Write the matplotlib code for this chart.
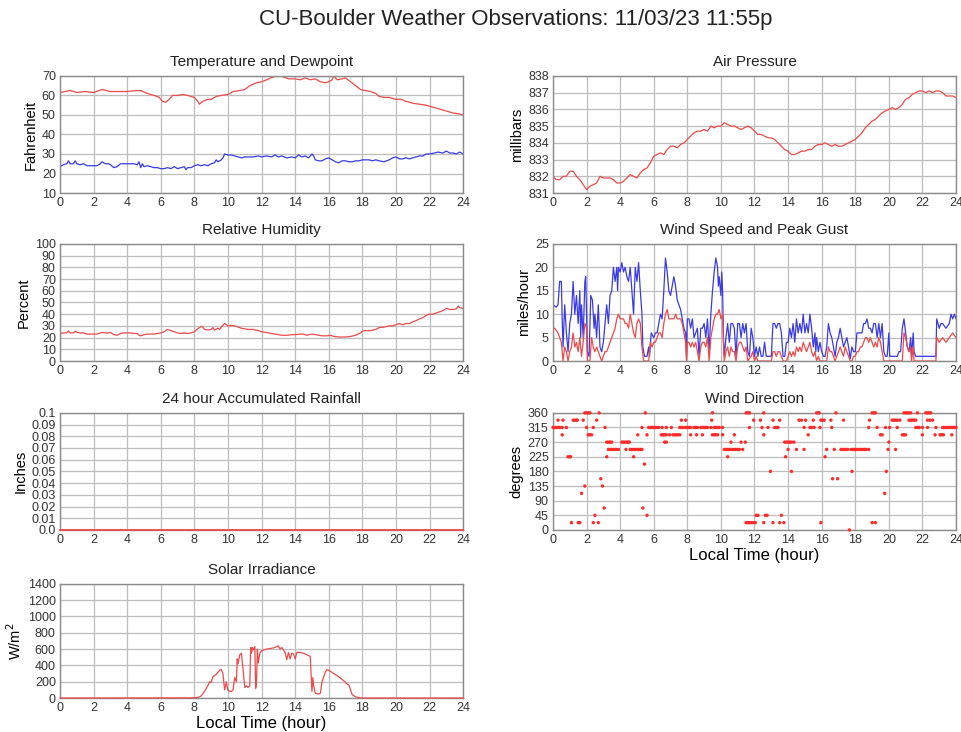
import numpy as np
import matplotlib
matplotlib.use("Agg")
import matplotlib.pyplot as plt

plt.rcParams['font.family'] = ['Liberation Sans', 'DejaVu Sans']
plt.rcParams['text.color'] = '#222222'

# ---- data (hours, value) ----
temp_t = [0, 0.3, 0.6, 1.0, 1.5, 2.0, 2.5, 3.0, 3.5, 4.0, 4.5, 4.8, 5.2, 5.6, 5.9, 6.1, 6.3, 6.5, 6.7, 7.0,
          7.3, 7.6, 8.0, 8.2, 8.3, 8.5, 8.8, 9.0, 9.3, 9.6, 10.0, 10.3, 10.7, 11.0, 11.3, 11.7, 12.0, 12.3,
          12.7, 13.0, 13.3, 13.6, 14.0, 14.3, 14.6, 14.9, 15.2, 15.5, 15.8, 16.0, 16.2, 16.3, 16.5, 16.8,
          17.0, 17.3, 17.6, 17.9, 18.2, 18.5, 18.8, 19.0, 19.3, 19.6, 20.0, 20.3, 20.6, 21.0, 21.4, 21.8,
          22.2, 22.6, 23.0, 23.4, 23.8, 24.0]
temp_v = [61.5, 62, 62.5, 61.5, 62, 61.5, 63, 62, 62, 62, 62.5, 62.5, 61, 60, 59, 57, 56.5, 58, 60, 60,
          60.5, 60, 59, 57, 55.5, 57, 58, 58, 59.5, 60, 60.5, 62, 62.5, 63, 65, 66.5, 67, 68,
          69.5, 70, 69.5, 68.5, 68.5, 68, 69, 68, 68.5, 67, 66.5, 67, 68, 70, 68, 68.5,
          69, 67, 65, 63, 62.5, 62, 61, 59.5, 59, 59, 58, 58, 57, 56, 55.5, 55,
          54, 53, 52, 51, 50.5, 50]

dew_t = [0, 0.2, 0.4, 0.5, 0.6, 0.8, 0.9, 1.0, 1.2, 1.4, 1.6, 1.8, 2.0, 2.2, 2.4, 2.5, 2.7, 2.9, 3.0, 3.2,
         3.4, 3.6, 3.8, 4.0, 4.2, 4.4, 4.6, 4.7, 4.8, 4.9, 5.0, 5.2, 5.4, 5.6, 5.8, 6.0, 6.2, 6.4, 6.6,
         6.8, 7.0, 7.2, 7.4, 7.5, 7.6, 7.8, 8.0, 8.2, 8.4, 8.6, 8.8, 9.0, 9.2, 9.3, 9.4, 9.5, 9.6, 9.7,
         9.8, 10.0, 10.2, 10.4, 10.6, 10.8, 11.0, 11.2, 11.5, 11.8, 12.0, 12.3, 12.6, 12.8, 13.0, 13.2,
         13.5, 13.8, 14.0, 14.2, 14.4, 14.6, 14.8, 15.0, 15.1, 15.2, 15.4, 15.6, 15.8, 16.0, 16.2, 16.4,
         16.6, 16.8, 17.0, 17.2, 17.4, 17.6, 17.8, 18.0, 18.2, 18.4, 18.6, 18.8, 19.0, 19.3, 19.6, 19.8,
         20.0, 20.2, 20.4, 20.6, 20.8, 21.0, 21.2, 21.4, 21.6, 21.8, 22.0, 22.3, 22.5, 22.8, 23.0, 23.2,
         23.4, 23.6, 23.8, 24.0]
dew_v = [23.5, 24.5, 25, 26.5, 25, 25, 26.5, 25, 24.5, 25, 24, 24, 24, 24, 25, 26, 25, 25, 24.5, 23,
         23.5, 25, 25, 25, 25, 25, 24.5, 26, 23, 25, 23.5, 24, 23.5, 23, 23, 22.5, 22.5, 23, 22.5,
         23.5, 22.5, 23, 23.5, 22, 23, 23, 24, 24.5, 24, 24.5, 24, 25, 25.5, 27, 26, 26.5, 27, 28,
         30, 29.5, 29.5, 29, 28.5, 28, 28.5, 28.5, 28.5, 29, 28.5, 29, 28.5, 29.5, 28.5, 29,
         28, 28.5, 28, 29.5, 28.5, 29, 28, 30, 29, 27, 26.5, 26.5, 27.5, 28, 27, 26,
         25.5, 26.5, 26.5, 26, 26, 26.5, 26.5, 27, 27, 27, 26.5, 27, 26.5, 26, 27, 28,
         28.5, 27.5, 27.5, 28, 27.5, 28, 28.5, 29, 29, 30, 30, 30.5, 31, 30.5, 31.5, 30.5,
         30.5, 30, 31, 30]

pres_t = [round(0.2 * i, 1) for i in range(121)]
pres_v = [832.0, 831.8, 831.8, 832.0, 832.0, 832.3, 832.3, 832.0, 831.8, 831.5, 831.2, 831.4, 831.5, 831.6,
          832.0, 831.9, 831.9, 831.9, 831.8, 831.6, 831.6, 831.7, 831.9, 832.1, 832.0, 831.9, 832.2, 832.4,
          832.5, 832.8, 833.2, 833.3, 833.4, 833.3, 833.6, 833.8, 833.8, 833.7, 833.9, 834.0, 834.2, 834.4,
          834.6, 834.7, 834.7, 834.8, 834.7, 835.0, 834.9, 835.0, 835.0, 835.2, 835.1, 835.0, 835.0, 834.9,
          834.8, 834.9, 835.0, 834.9, 834.7, 834.5, 834.5, 834.4, 834.3, 834.3, 834.2, 834.0, 833.8, 833.6,
          833.5, 833.3, 833.3, 833.4, 833.5, 833.5, 833.6, 833.6, 833.8, 833.9, 833.9, 834.0, 833.9, 833.8,
          833.9, 833.8, 833.8, 833.9, 834.0, 834.1, 834.2, 834.4, 834.6, 834.9, 835.1, 835.3, 835.4, 835.6,
          835.8, 835.9, 836.0, 836.1, 836.0, 836.1, 836.3, 836.6, 836.7, 836.9, 837.0, 837.1, 837.1, 837.0,
          837.1, 837.0, 837.1, 837.1, 837.0, 836.8, 836.8, 836.8, 836.7]

rh_t = [0, 0.2, 0.4, 0.5, 0.6, 0.8, 0.9, 1.0, 1.2, 1.4, 1.6, 1.8, 2.0, 2.2, 2.4, 2.5, 2.7, 2.9, 3.0, 3.2,
        3.4, 3.6, 3.8, 4.0, 4.2, 4.4, 4.6, 4.7, 4.8, 5.0, 5.2, 5.4, 5.6, 5.8, 6.0, 6.2, 6.4, 6.5, 6.6,
        6.8, 7.0, 7.2, 7.4, 7.6, 7.8, 8.0, 8.2, 8.4, 8.5, 8.6, 8.8, 9.0, 9.1, 9.2, 9.4, 9.5, 9.6, 9.8,
        10.0, 10.2, 10.4, 10.6, 10.8, 11.0, 11.2, 11.5, 11.8, 12.0, 12.4, 12.8, 13.0, 13.2, 13.5, 13.8,
        14.0, 14.3, 14.5, 14.7, 15.0, 15.2, 15.4, 15.6, 15.9, 16.1, 16.3, 16.6, 17.0, 17.3, 17.6, 17.9,
        18.0, 18.2, 18.5, 18.8, 19.0, 19.3, 19.6, 19.8, 20.0, 20.2, 20.4, 20.6, 20.8, 21.0, 21.2, 21.4,
        21.6, 21.8, 22.0, 22.2, 22.4, 22.6, 22.8, 23.0, 23.2, 23.4, 23.6, 23.7, 23.8, 24.0]
rh_v = [23.5, 24, 24, 25.5, 24, 24, 25.5, 24.5, 24, 24, 23, 23, 23, 23, 24, 24.5, 24, 24, 24.5, 22.5,
        22, 23.5, 24, 24, 24, 23.5, 23.5, 22, 21.5, 22.5, 23, 23, 23, 23.5, 24, 25, 27, 26.5, 26,
        25, 24, 23.5, 24, 23.5, 24, 25, 27.5, 29.5, 29, 27, 26.5, 27, 28.5, 26.5, 28, 27, 29, 32,
        30, 30.5, 30, 29, 28, 27.5, 27, 27, 26, 25, 24, 23, 22.5, 22, 22, 22.5,
        22.5, 23, 23, 22, 23, 22.5, 22, 21.5, 21.5, 22, 21, 20.5, 20.5, 21, 22, 24,
        25.5, 26, 26, 27, 28.5, 29, 30, 30, 31, 32, 31, 32, 32, 33.5, 34.5, 36,
        37, 39, 40, 40, 41, 42, 43, 45, 44, 44, 44.5, 47, 45.5, 45]

rain_t = [0, 24]
rain_v = [0.0, 0.0]

gust_t = [0, 0.2, 0.3, 0.4, 0.5, 0.55, 0.6, 0.7, 0.8, 0.9, 1.0, 1.1, 1.2, 1.3, 1.4, 1.5, 1.6, 1.65, 1.7, 1.8,
          1.9, 1.95, 2.05, 2.15, 2.25, 2.35, 2.45, 2.5, 2.6, 2.7, 2.8, 2.9, 3.0, 3.1, 3.2, 3.3, 3.4, 3.5,
          3.6, 3.7, 3.8, 3.85, 3.9, 4.0, 4.1, 4.2, 4.3, 4.4, 4.5, 4.6, 4.7, 4.8, 4.9, 5.0, 5.1, 5.2, 5.3,
          5.35, 5.45, 5.6, 5.7, 5.75, 5.85, 6.0, 6.1, 6.2, 6.4, 6.5, 6.6, 6.7, 6.8, 6.9, 7.0, 7.1, 7.2,
          7.3, 7.4, 7.5, 7.6, 7.7, 7.8, 7.9, 7.95, 8.0, 8.1, 8.2, 8.3, 8.4, 8.5, 8.6, 8.7, 8.8, 8.9, 9.0,
          9.1, 9.2, 9.3, 9.4, 9.5, 9.6, 9.7, 9.8, 9.85, 9.9, 10.0, 10.05, 10.1, 10.15, 10.2, 10.3, 10.4,
          10.5, 10.6, 10.7, 10.8, 10.9, 11.0, 11.1, 11.2, 11.3, 11.4, 11.5, 11.6, 11.7, 11.8, 11.9, 12.0,
          12.1, 12.2, 12.3, 12.4, 12.5, 12.6, 12.7, 13.0, 13.1, 13.2, 13.3, 13.4, 13.5, 13.6, 13.7, 13.8,
          13.9, 14.0, 14.1, 14.2, 14.3, 14.4, 14.5, 14.6, 14.7, 14.8, 14.9, 15.0, 15.1, 15.2, 15.3, 15.4,
          15.5, 15.6, 15.65, 15.7, 15.8, 15.9, 16.0, 16.1, 16.2, 16.3, 16.4, 16.5, 16.6, 16.7, 16.8, 16.9,
          17.0, 17.1, 17.2, 17.3, 17.4, 17.5, 17.6, 17.7, 17.8, 17.9, 18.0, 18.1, 18.2, 18.3, 18.4, 18.5,
          18.6, 18.7, 18.8, 18.9, 19.0, 19.1, 19.2, 19.3, 19.4, 19.5, 19.6, 19.7, 19.8, 19.9, 20.0, 20.05,
          20.2, 20.5, 20.6, 20.7, 20.8, 20.9, 21.0, 21.1, 21.2, 21.3, 21.35, 21.45, 21.5, 21.6, 22.0, 22.5,
          22.8, 22.85, 23.0, 23.1, 23.2, 23.4, 23.6, 23.7, 23.8, 23.9, 24.0]
gust_v = [12, 11.5, 12, 17, 17, 9, 3, 12, 6, 2, 8, 10, 17, 10, 14, 8, 15, 5, 12, 5,
          17, 18, 2, 1, 14, 13, 7, 10, 5, 12, 3, 2, 4, 8, 12, 8, 14, 15,
          20, 17, 20, 15, 20, 19, 21, 19, 20, 18, 17, 20, 15, 10, 20, 17, 21, 15, 10,
          3, 1, 1, 3, 1, 6, 5, 6, 6, 10, 9, 15, 22, 19, 15, 14, 16, 18,
          16, 13, 12, 11, 9, 7, 6, 1, 9, 9, 7, 9, 5, 6, 7, 1, 7, 7, 8,
          5, 9, 2, 10, 15, 19, 22, 20, 16, 18, 14, 19, 15, 5, 1, 5, 8,
          4, 8, 8, 7, 1, 8, 8, 5, 8, 6, 8, 2, 1, 7, 5, 1,
          3, 1, 3, 1, 1, 4, 1, 1, 8, 8, 7, 8, 8, 6, 1, 1,
          4, 4, 7, 5, 8, 4, 9, 6, 8, 6, 10, 6, 8, 6, 10, 7,
          3, 6, 2, 5, 2, 4, 2, 1, 1, 3, 8, 6, 5, 3, 1, 4,
          5, 7, 5, 3, 4, 5, 3, 0.5, 3, 2, 2, 6, 6, 6, 6, 8,
          8, 9, 7, 7, 6, 8, 8, 5, 8, 5, 8, 2, 1, 1, 6, 1,
          1, 1, 2, 2, 7, 9, 6, 3, 2, 5, 1, 6, 2, 1, 1, 1,
          1, 9, 7, 8, 8, 7, 8, 10, 9, 10, 9]

speed_t = [0, 0.1, 0.2, 0.3, 0.4, 0.5, 0.6, 0.7, 0.8, 0.9, 1.0, 1.1, 1.2, 1.3, 1.4, 1.5, 1.6, 1.7, 1.8, 1.9,
           2.0, 2.05, 2.2, 2.3, 2.4, 2.5, 2.6, 2.7, 2.8, 2.9, 3.0, 3.1, 3.2, 3.3, 3.4, 3.5, 3.6, 3.7, 3.8,
           3.9, 4.0, 4.2, 4.3, 4.4, 4.5, 4.6, 4.7, 4.8, 4.9, 5.0, 5.1, 5.2, 5.3, 5.4, 5.5, 5.7, 5.8, 5.9,
           6.0, 6.1, 6.2, 6.3, 6.4, 6.5, 6.6, 6.7, 6.8, 6.9, 7.0, 7.2, 7.3, 7.4, 7.6, 7.7, 7.8, 7.9, 7.95,
           8.0, 8.1, 8.2, 8.3, 8.4, 8.5, 8.6, 8.7, 8.8, 8.9, 9.0, 9.1, 9.2, 9.3, 9.4, 9.5, 9.6, 9.7, 9.8,
           9.9, 10.0, 10.1, 10.15, 10.2, 10.3, 10.4, 10.5, 10.6, 10.7, 10.8, 10.9, 11.0, 11.1, 11.2, 11.3,
           11.4, 11.5, 11.6, 11.8, 11.9, 12.0, 12.1, 12.2, 13.0, 13.1, 13.2, 13.3, 13.4, 13.5, 13.6, 13.7,
           13.9, 14.0, 14.1, 14.2, 14.3, 14.4, 14.5, 14.6, 14.7, 14.8, 14.9, 15.0, 15.1, 15.2, 15.3, 15.4,
           15.5, 15.6, 15.7, 15.8, 15.9, 16.3, 16.4, 16.5, 16.6, 16.7, 16.8, 16.9, 17.0, 17.1, 17.2, 17.3,
           17.4, 17.5, 17.6, 17.7, 17.8, 17.9, 18.0, 18.1, 18.2, 18.3, 18.4, 18.5, 18.6, 18.7, 18.8, 18.9,
           19.0, 19.1, 19.2, 19.3, 19.4, 19.5, 19.6, 19.7, 20.0, 20.5, 20.8, 20.9, 21.0, 21.1, 21.2, 21.3,
           21.35, 21.45, 21.5, 21.6, 22.8, 22.85, 23.0, 23.2, 23.4, 23.6, 23.8, 24.0]
speed_v = [7, 7, 6.5, 6, 5, 4, 0, 3, 2, 0, 2, 3, 6, 3, 4, 2, 5, 1, 4, 8,
           7, 0, 0, 5, 3, 2, 3, 2, 1, 0, 1, 2, 2, 3, 4, 5, 6, 7, 9,
           10, 9, 9, 8, 8, 7, 10, 8, 6, 5, 8, 9, 8, 3, 0, 0, 0, 4, 3,
           4, 4, 5, 6, 6, 5, 8, 10, 11, 9, 9, 9, 10, 9, 9, 8, 6, 4, 0,
           4, 4, 3, 4, 3, 4, 2, 0, 3, 4, 4, 3, 5, 0, 5, 7, 9, 10, 10,
           11, 9, 10, 4, 0, 2, 3, 1, 3, 2, 2, 0, 3, 4, 4, 3,
           2, 3, 0, 1, 2, 0, 1, 0, 0, 2, 2, 1, 2, 2, 1, 0,
           0, 1, 2, 1, 2, 1, 3, 2, 3, 2, 4, 3, 2, 3, 4, 2,
           1, 2, 0, 1, 0, 0, 3, 2, 2, 1, 0, 1, 2, 3, 2, 1,
           3, 2, 1, 0, 0, 1, 1, 2, 2, 3, 3, 4, 5, 5, 4, 5,
           4, 3, 4, 3, 5, 4, 2, 0, 0, 0, 0, 6, 5, 3, 2, 3,
           0, 3, 0, 0, 0, 5, 4, 5, 4, 5, 6, 5]

# wind direction: degrees -> times of observations
wdir = {
    360.0: [1.9, 2.0, 2.1, 2.2, 2.75, 5.5, 9.5, 11.5, 11.6, 11.7, 12.55, 15.7, 15.8, 15.85, 16.85,
            19.0, 19.1, 19.2, 20.9, 21.0, 21.1, 21.2, 21.3, 21.7, 22.2, 22.3, 22.4, 22.5],
    337.5: [0.3, 0.6, 1.2, 1.3, 1.4, 1.45, 1.8, 2.6, 7.65, 7.9, 9.45, 11.95, 12.35, 13.1, 13.5, 14.65,
            14.8, 15.05, 15.5, 15.95, 16.05, 16.15, 16.55, 17.3, 18.85, 20.2, 20.3, 20.4, 20.5, 20.65,
            21.2, 21.3, 21.4, 21.5, 21.6, 22.3, 22.45, 22.6],
    315.0: [0.0, 0.1, 0.2, 0.3, 0.4, 0.55, 0.8, 2.0, 2.4, 3.1, 5.3, 5.7, 5.8, 5.9, 6.0, 6.1, 6.2, 6.3,
            6.5, 6.75, 7.05, 7.55, 7.65, 7.75, 7.9, 8.0, 8.1, 8.2, 8.4, 8.5, 8.6, 8.8, 8.9, 9.0, 9.1,
            9.2, 9.4, 9.6, 9.7, 9.8, 9.9, 10.1, 11.7, 12.45, 12.8, 13.2, 13.3, 13.4, 14.95, 15.3, 15.4,
            15.55, 15.9, 16.6, 18.8, 19.3, 19.8, 20.05, 20.5, 21.6, 21.7, 21.8, 22.0, 22.3, 22.8, 23.2,
            23.3, 23.4, 23.5, 23.6, 23.7, 23.8, 23.9, 24.0],
    292.5: [0.55, 2.1, 2.2, 2.3, 5.05, 5.6, 6.45, 6.55, 6.65, 6.75, 6.95, 7.15, 7.25, 7.35, 7.45, 7.55,
            8.2, 8.55, 8.9, 9.5, 9.6, 9.7, 9.8, 10.1, 10.8, 12.55, 15.2, 19.5, 19.6, 20.8, 20.9, 21.0,
            22.0, 22.75, 23.05, 23.15, 23.25, 23.75],
    270.0: [3.2, 3.3, 3.4, 3.5, 4.1, 4.2, 4.3, 4.4, 4.5, 4.55, 6.65, 6.75, 10.6, 11.2, 11.45, 13.8, 13.9,
            14.0, 14.1, 14.2, 14.35, 20.0],
    247.5: [3.3, 3.4, 3.5, 3.6, 3.7, 3.8, 3.9, 4.35, 4.6, 4.7, 4.8, 4.9, 5.0, 5.1, 5.2, 5.3, 10.2, 10.3,
            10.4, 10.5, 10.6, 10.7, 10.8, 10.9, 11.0, 11.1, 11.3, 14.0, 14.5, 14.95, 16.3, 16.75, 17.15,
            17.25, 17.35, 17.45, 17.55, 17.75, 17.85, 17.95, 18.05, 18.15, 18.25, 18.35, 18.45, 18.55,
            18.65, 18.8, 19.95, 20.4],
    225.0: [0.9, 1.0, 1.05, 3.2, 4.8, 10.4, 13.85, 16.2],
    202.5: [5.45],
    180.0: [12.95, 14.2, 17.8, 19.85],
    157.5: [2.85, 16.65, 16.95],
    135.0: [1.9, 2.95],
    112.5: [1.7, 19.75],
    67.5: [3.05, 5.35],
    45.0: [2.5, 5.6, 12.1, 12.2, 12.65, 12.75, 13.6],
    22.5: [1.1, 1.5, 1.6, 2.4, 2.7, 11.5, 11.6, 11.7, 11.8, 11.9, 12.05, 12.55, 13.1, 13.5, 13.75, 15.95,
           19.0, 19.2],
    0.0: [17.65],
}

solar_t = [0, 7.8, 8.2, 8.4, 8.6, 8.8, 8.9, 9.0, 9.1, 9.3, 9.5, 9.6, 9.7, 9.8, 9.9, 10.0, 10.2, 10.3, 10.4,
           10.5, 10.55, 10.6, 10.7, 10.8, 10.9, 11.0, 11.1, 11.2, 11.3, 11.35, 11.4, 11.45, 11.5, 11.6,
           11.65, 11.7, 11.75, 11.8, 11.9, 12.0, 12.3, 12.6, 12.8, 13.0, 13.1, 13.2, 13.3, 13.4, 13.5,
           13.6, 13.7, 13.8, 13.9, 14.0, 14.1, 14.3, 14.6, 14.9, 15.0, 15.05, 15.1, 15.2, 15.4, 15.5,
           15.6, 15.8, 15.9, 16.0, 16.3, 16.6, 16.9, 17.1, 17.2, 17.3, 17.4, 17.6, 17.8, 18.0, 24.0]
solar_v = [0, 2, 5, 25, 80, 150, 200, 190, 260, 290, 340, 350, 300, 100, 200, 90, 80, 100, 250,
           200, 480, 420, 530, 550, 350, 130, 150, 130, 150, 620, 550, 620, 590, 630,
           120, 200, 600, 430, 550, 580, 600, 610, 620, 640, 600, 620, 590, 560, 470,
           560, 480, 550, 540, 480, 560, 560, 540, 510, 80, 250, 150, 60, 50, 60,
           200, 320, 350, 340, 300, 260, 210, 170, 160, 100, 40, 15, 5, 0, 0]

RED = '#ee4a4a'
BLUE = '#3a3ae8'
hours = list(range(0, 25, 2))

fig = plt.figure(figsize=(9.62, 7.32), dpi=100)
fig.suptitle('CU-Boulder Weather Observations: 11/03/23 11:55p', fontsize=16, x=0.536, y=0.988)

W = 0.419
H = 0.160
lx, rx = 0.0624, 0.5748
rows = [0.7363, 0.5068, 0.2760]


def style(ax, title, ylabel, ylim, yticks, yticklabels=None, xlabel=None):
    ax.set_xlim(0, 24)
    ax.set_ylim(*ylim)
    ax.set_xticks(hours)
    ax.set_yticks(yticks)
    if yticklabels is not None:
        ax.set_yticklabels(yticklabels)
    ax.grid(True, color='#bdbdbd', linewidth=0.9)
    ax.set_axisbelow(True)
    for s in ax.spines.values():
        s.set_color('#8a8a8a')
        s.set_linewidth(1.0)
    ax.tick_params(length=0, labelsize=9, pad=3, colors='#333333')
    ax.set_title(title, fontsize=11, pad=7)
    ax.set_ylabel(ylabel, fontsize=10.5, labelpad=3)
    if xlabel:
        ax.set_xlabel(xlabel, fontsize=12, labelpad=1)


ax = fig.add_axes([lx, rows[0], W, H])
ax.plot(temp_t, temp_v, color=RED, lw=0.9)
ax.plot(dew_t, dew_v, color=BLUE, lw=0.9)
style(ax, 'Temperature and Dewpoint', 'Fahrenheit', (10, 70), range(10, 71, 10))

ax = fig.add_axes([rx, rows[0], W, H])
ax.plot(pres_t, pres_v, color=RED, lw=0.9)
style(ax, 'Air Pressure', 'millibars', (831, 838), range(831, 839))

ax = fig.add_axes([lx, rows[1], W, H])
ax.plot(rh_t, rh_v, color=RED, lw=0.9)
style(ax, 'Relative Humidity', 'Percent', (0, 100), range(0, 101, 10))

ax = fig.add_axes([rx, rows[1], W, H])
ax.plot(gust_t, gust_v, color=BLUE, lw=0.9)
ax.plot(speed_t, speed_v, color=RED, lw=0.9)
style(ax, 'Wind Speed and Peak Gust', 'miles/hour', (0, 25), range(0, 26, 5))

ax = fig.add_axes([lx, rows[2], W, H])
ax.plot(rain_t, rain_v, color=RED, lw=1.3, zorder=5, clip_on=False)
rain_ticks = [i / 100 for i in range(11)]
rain_labels = ['0.0'] + ['%.2f' % v for v in rain_ticks[1:10]] + ['0.1']
style(ax, '24 hour Accumulated Rainfall', 'Inches', (0, 0.1), rain_ticks, rain_labels)

ax = fig.add_axes([rx, rows[2], W, H])
for deg, ts in wdir.items():
    ax.scatter(ts, [deg] * len(ts), s=6, color='#ff2a2a', edgecolors='none', zorder=3, clip_on=False)
style(ax, 'Wind Direction', 'degrees', (0, 360), range(0, 361, 45), xlabel='Local Time (hour)')

ax = fig.add_axes([lx, 0.0464, W, 0.156])
ax.plot(solar_t, solar_v, color=RED, lw=0.9, zorder=5, clip_on=False)
style(ax, 'Solar Irradiance', 'W/m$^2$', (0, 1400), range(0, 1401, 200), xlabel='Local Time (hour)')

fig.savefig('out.png', dpi=100)
